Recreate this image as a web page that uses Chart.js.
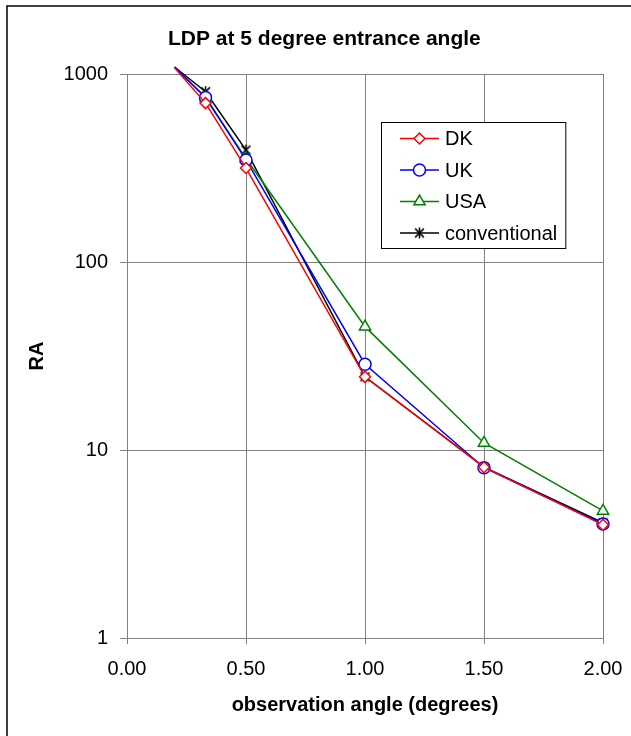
<!DOCTYPE html>
<html>
<head>
<meta charset="utf-8">
<script src="https://cdn.jsdelivr.net/npm/chart.js@4/dist/chart.umd.min.js"></script>
<style>
  html, body { margin: 0; padding: 0; background: #ffffff; }
  #wrap { width: 631px; height: 736px; }
</style>
</head>
<body>
<div id="wrap"><canvas id="chart" width="631" height="736"></canvas></div>
<script>
// observation angles (degrees) and RA values
const angles = [0.2, 0.33, 0.5, 1.0, 1.5, 2.0];
const dkValues = [1080, 700, 316, 24.5, 8.1, 4.0];
const ukValues = [1090, 750, 349, 28.6, 8.05, 4.04];
const usaValues = [1090, 750, 355, 45.3, 10.9, 4.74];
const convValues = [1090, 805, 394, 24.5, 8.1, 4.1];
const yTicks = [1, 10, 100, 1000];
const xTicks = [0, 0.5, 1.0, 1.5, 2.0];

const FONT = "'Liberation Sans', Arial, sans-serif";
Chart.defaults.font.family = FONT;
Chart.defaults.color = '#000000';

function toPoints(values) {
    return angles.map((a, i) => ({ x: a, y: values[i] }));
}

// Excel style asterisk marker: an X with a vertical stroke
function makeAsterisk(size, color) {
    const c = document.createElement('canvas');
    c.width = size; c.height = size;
    const g = c.getContext('2d');
    const m = size / 2, r = size / 2 - 1;
    g.strokeStyle = color;
    g.lineWidth = 1.5;
    g.beginPath();
    g.moveTo(m - r * 0.8, m - r * 0.8); g.lineTo(m + r * 0.8, m + r * 0.8);
    g.moveTo(m + r * 0.8, m - r * 0.8); g.lineTo(m - r * 0.8, m + r * 0.8);
    g.moveTo(m, m - r); g.lineTo(m, m + r);
    g.stroke();
    return c;
}
const asterisk = makeAsterisk(13, '#000000');

// markers of points above the axis top are not shown
function radiusFor(r) {
    return ctx => (ctx.raw && ctx.raw.y > 1000 ? 0 : r);
}

function series(label, values, color, style, r) {
    return {
        label: label,
        data: toPoints(values),
        borderColor: color,
        backgroundColor: '#ffffff',
        borderWidth: 1.5,
        pointStyle: style,
        pointRadius: radiusFor(r),
        pointHoverRadius: radiusFor(r),
        pointBorderColor: color,
        pointBackgroundColor: '#ffffff',
        pointBorderWidth: 1.5,
        legendRadius: r,
        clip: false,
        tension: 0
    };
}

// outer frame of the chart object
const framePlugin = {
    id: 'frame',
    beforeDraw(chart) {
        const ctx = chart.ctx;
        ctx.save();
        ctx.fillStyle = '#ffffff';
        ctx.fillRect(0, 0, chart.width, chart.height);
        ctx.strokeStyle = '#000000';
        ctx.lineWidth = 1.5;
        ctx.strokeRect(7, 6, chart.width + 20, chart.height + 20);
        ctx.restore();
    }
};

// title starts where the reference one starts
const titlePlugin = {
    id: 'titleShift',
    afterLayout(chart) {
        const t = chart.titleBlock;
        if (t) {
            t.left = 168;
            t.right = chart.width;
            t.width = t.right - t.left;
        }
    }
};

// boxed legend with line + marker samples
const legendPlugin = {
    id: 'boxLegend',
    afterDraw(chart) {
        const ctx = chart.ctx;
        const sets = chart.data.datasets;
        const x0 = 381, y0 = 122, rowH = 31.5;
        ctx.save();
        ctx.font = '20px ' + FONT;
        let maxW = 0;
        sets.forEach(d => { maxW = Math.max(maxW, ctx.measureText(d.label).width); });
        const w = 445 - x0 + maxW + 8;
        const h = 126;
        ctx.fillStyle = '#ffffff';
        ctx.fillRect(x0, y0, w, h);
        ctx.strokeStyle = '#000000';
        ctx.lineWidth = 1;
        ctx.strokeRect(x0 + 0.5, y0 + 0.5, w, h);
        sets.forEach((d, i) => {
            const cy = y0 + 16.5 + i * rowH;
            ctx.strokeStyle = d.borderColor;
            ctx.lineWidth = d.borderWidth;
            ctx.beginPath();
            ctx.moveTo(400, cy);
            ctx.lineTo(439, cy);
            ctx.stroke();
            ctx.fillStyle = '#ffffff';
            ctx.strokeStyle = d.borderColor;
            ctx.lineWidth = d.pointBorderWidth;
            Chart.helpers.drawPoint(ctx, {
                pointStyle: d.pointStyle,
                radius: d.legendRadius,
                borderWidth: d.pointBorderWidth,
                rotation: 0
            }, 419.5, cy);
            ctx.fillStyle = '#000000';
            ctx.textAlign = 'left';
            ctx.textBaseline = 'middle';
            ctx.fillText(d.label, 445, cy + 1);
        });
        ctx.restore();
    }
};

new Chart(document.getElementById('chart').getContext('2d'), {
    type: 'line',
    data: {
        datasets: [
            series('DK', dkValues, '#ff0000', 'rectRot', 5.5),
            series('UK', ukValues, '#0000ff', 'circle', 6),
            series('USA', usaValues, '#008000', 'triangle', 6.5),
            series('conventional', convValues, '#000000', asterisk, 6.5)
        ]
    },
    options: {
        responsive: false,
        animation: false,
        devicePixelRatio: 1,
        layout: { padding: { left: 0, right: 28, top: 0, bottom: 0 } },
        plugins: {
            legend: { display: false },
            tooltip: { enabled: false },
            title: {
                display: true,
                text: 'LDP at 5 degree entrance angle',
                align: 'start',
                color: '#000000',
                font: { family: FONT, size: 21, weight: 'bold' },
                padding: { top: 27, bottom: 21.8 }
            }
        },
        scales: {
            x: {
                type: 'linear',
                min: 0,
                max: 2,
                afterBuildTicks: scale => { scale.ticks = xTicks.map(v => ({ value: v })); },
                afterFit: scale => {
                    scale.height = 98;
                    // let the plot reach x = 603 like the reference
                    scale.paddingRight = 28;
                },
                ticks: {
                    color: '#000000',
                    font: { family: FONT, size: 20 },
                    padding: 13,
                    maxRotation: 0,
                    callback: v => Number(v).toFixed(2)
                },
                grid: { color: '#808080', lineWidth: 1, tickLength: 6, drawTicks: true },
                border: { color: '#808080', width: 1 },
                title: {
                    display: true,
                    text: 'observation angle (degrees)',
                    color: '#000000',
                    font: { family: FONT, size: 20, weight: 'bold' },
                    padding: { top: 0, bottom: 19 }
                }
            },
            y: {
                type: 'logarithmic',
                min: 1,
                max: 1000,
                afterBuildTicks: scale => { scale.ticks = yTicks.map(v => ({ value: v })); },
                afterFit: scale => { scale.width = 127; },
                ticks: {
                    color: '#000000',
                    font: { family: FONT, size: 20 },
                    padding: 12,
                    callback: v => String(v)
                },
                grid: { color: '#808080', lineWidth: 1, tickLength: 7, drawTicks: true },
                border: { color: '#808080', width: 1 },
                title: {
                    display: true,
                    text: 'RA',
                    color: '#000000',
                    font: { family: FONT, size: 20, weight: 'bold' },
                    padding: { top: 25, bottom: 0 }
                }
            }
        }
    },
    plugins: [framePlugin, titlePlugin, legendPlugin]
});
</script>
</body>
</html>
